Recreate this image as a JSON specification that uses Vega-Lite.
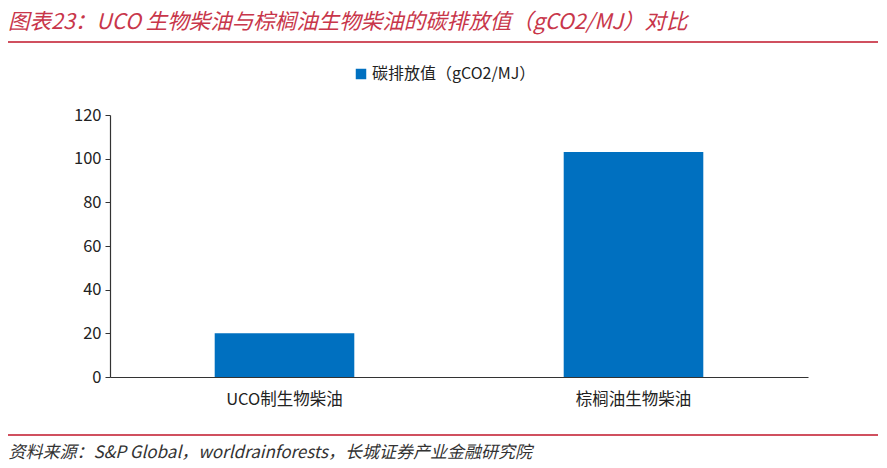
{
  "$schema": "https://vega.github.io/schema/vega-lite/v6.json",
  "width": 698,
  "height": 262,
  "autosize": "none",
  "padding": {"left": 110, "top": 115, "right": 79, "bottom": 91},
  "background": "white",
  "config": {
    "view": {"stroke": null},
    "font": "Noto Sans CJK SC"
  },
  "title": {
    "text": "图表23：UCO 生物柴油与棕榈油生物柴油的碳排放值（gCO2/MJ）对比",
    "anchor": "start",
    "frame": "group",
    "dx": -102,
    "offset": 8,
    "fontSize": 21.5,
    "fontStyle": "italic",
    "fontWeight": "normal",
    "color": "#c8364a",
    "font": "Noto Sans CJK SC"
  },
  "data": {
    "values": [
      {"category": "UCO制生物柴油", "series": "碳排放值（gCO2/MJ）", "value": 20},
      {"category": "棕榈油生物柴油", "series": "碳排放值（gCO2/MJ）", "value": 103}
    ]
  },
  "layer": [
    {
      "mark": {"type": "bar", "color": "#0070C0"},
      "encoding": {
        "x": {
          "field": "category",
          "type": "nominal",
          "sort": null,
          "scale": {"paddingInner": 0.6, "paddingOuter": 0.3},
          "axis": {
            "title": "资料来源：S&P Global，worldrainforests，长城证券产业金融研究院",
            "titleX": -102,
            "titleY": 75,
            "titleAnchor": "start",
            "titleAlign": "left",
            "titleBaseline": "middle",
            "titleFontStyle": "italic",
            "titleFontWeight": "normal",
            "titleFontSize": 17,
            "titleColor": "#333333",
            "labelAngle": 0,
            "labelFontSize": 16.5,
            "labelColor": "#222222",
            "labelPadding": 14,
            "ticks": false,
            "domainColor": "#333333",
            "domainWidth": 1.2
          }
        },
        "y": {
          "field": "value",
          "type": "quantitative",
          "scale": {"domain": [0, 120]},
          "axis": {
            "title": null,
            "values": [0, 20, 40, 60, 80, 100, 120],
            "grid": false,
            "tickSize": 5,
            "tickColor": "#333333",
            "domainColor": "#333333",
            "domainWidth": 1.2,
            "labelFontSize": 16.5,
            "labelColor": "#222222",
            "labelPadding": 4
          }
        },
        "color": {
          "field": "series",
          "type": "nominal",
          "scale": {"range": ["#0070C0"]},
          "legend": {
            "title": null,
            "orient": "none",
            "legendX": 243,
            "legendY": -49,
            "symbolType": "square",
            "symbolSize": 110,
            "symbolStrokeWidth": 0,
            "labelFontSize": 16,
            "labelLimit": 400,
            "labelColor": "#222222",
            "labelOffset": 3
          }
        }
      }
    },
    {
      "data": {"values": [{"pos": "top"}]},
      "mark": {"type": "rule", "color": "#d0505f", "strokeWidth": 2},
      "encoding": {
        "x": {"value": -102},
        "x2": {"value": 768},
        "y": {"value": -73}
      }
    },
    {
      "data": {"values": [{"pos": "bottom"}]},
      "mark": {"type": "rule", "color": "#d0505f", "strokeWidth": 2},
      "encoding": {
        "x": {"value": -102},
        "x2": {"value": 768},
        "y": {"value": 320}
      }
    }
  ]
}
